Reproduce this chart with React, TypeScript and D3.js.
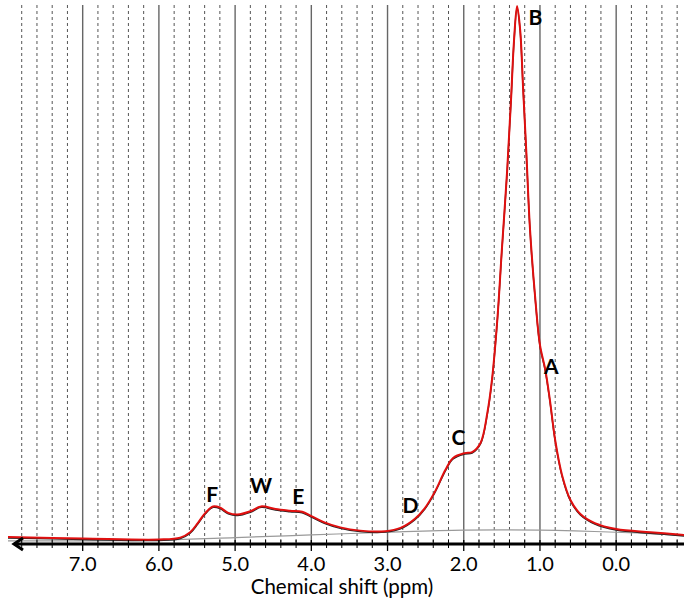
import React from 'react';
import * as d3 from 'd3';

// spectrum (ppm, intensity in % of the B peak)
const ppm = [7.98, 7.0, 6.0, 5.72, 5.59, 5.49, 5.39, 5.29, 5.2, 5.09, 4.97, 4.8, 4.66, 4.47, 4.28, 4.12, 4.0, 3.82, 3.62, 3.36, 3.03, 2.83, 2.64, 2.51, 2.38, 2.24, 2.14, 1.99, 1.89, 1.78, 1.69, 1.63, 1.56, 1.5, 1.43, 1.38, 1.34, 1.3, 1.26, 1.22, 1.18, 1.13, 1.06, 1.0, 0.93, 0.87, 0.8, 0.71, 0.6, 0.47, 0.28, 0.0, -0.45, -0.89];
const intensity = [1.1, 0.85, 0.65, 1.0, 2.0, 3.7, 5.6, 6.8, 6.6, 5.6, 5.3, 5.9, 6.8, 6.3, 6.0, 5.8, 5.0, 3.8, 2.9, 2.3, 2.2, 2.8, 4.5, 6.5, 9.5, 13.6, 15.8, 16.7, 16.9, 18.6, 24.2, 30.3, 41.4, 54.5, 69.3, 82.3, 93.5, 99.8, 95.4, 84.2, 73.0, 58.2, 45.2, 36.8, 32.2, 26.6, 19.1, 12.6, 8.0, 5.4, 3.7, 2.6, 2.0, 1.5];

// broad baseline component
const basePpm = [7.98, 6.0, 5.0, 4.0, 3.0, 2.0, 1.0, 0.0, -0.89];
const baseVal = [0.4, 0.55, 1.0, 1.5, 2.0, 2.4, 2.4, 2.0, 1.4];

const peakLabels = ['B', 'A', 'C', 'D', 'F', 'W', 'E'];
const labelPpm = [1.06, 0.85, 2.07, 2.7, 5.3, 4.66, 4.17];
const labelVal = [97.6, 32.7, 19.5, 6.9, 8.9, 10.6, 8.6];

const tickLabels = ['7.0', '6.0', '5.0', '4.0', '3.0', '2.0', '1.0', '0.0'];

export default function App() {
  const W = 684, H = 601;
  const x = d3.scaleLinear().domain([7.98, -0.89]).range([8, 684]);
  const y = d3.scaleLinear().domain([0, 100]).range([543, 5]);

  const line = d3.line<[number, number]>()
    .x(d => x(d[0]))
    .y(d => y(d[1]))
    .curve(d3.curveCatmullRom.alpha(0.5));

  const spec = line(ppm.map((p, i) => [p, intensity[i]]) as [number, number][]) || '';
  const base = line(basePpm.map((p, i) => [p, baseVal[i]]) as [number, number][]) || '';

  const minor = d3.range(-40, 40).map(i => i * 0.2).filter(v => Math.abs(v - Math.round(v)) > 0.01);
  const major = tickLabels.map(Number);

  return (
    <svg width={W} height={H} style={{ position: 'absolute', left: 0, top: 0 }}>
      <rect width={W} height={H} fill="#fff" />
      {minor.map(v => (
        <line key={'m' + v} x1={x(v)} x2={x(v)} y1={5} y2={543}
          stroke="#555" strokeWidth={1} strokeDasharray="3,3" />
      ))}
      {major.map(v => (
        <line key={'M' + v} x1={x(v)} x2={x(v)} y1={5} y2={543}
          stroke="#666" strokeWidth={1.4} />
      ))}
      <path d={base} fill="none" stroke="#9a9a9a" strokeWidth={1.2} />
      <path d={spec} fill="none" stroke="#222" strokeWidth={1.4} transform="translate(0,1)" />
      <path d={spec} fill="none" stroke="#e01010" strokeWidth={2} />

      {/* axis */}
      <line x1={14} x2={684} y1={544} y2={544} stroke="#000" strokeWidth={3} />
      <path d="M23,538 L14,544 L23,550" fill="none" stroke="#000" strokeWidth={3} />
      {minor.map(v => (
        <line key={'t' + v} x1={x(v)} x2={x(v)} y1={540} y2={548} stroke="#000" strokeWidth={1} />
      ))}
      {major.map(v => (
        <line key={'T' + v} x1={x(v)} x2={x(v)} y1={540} y2={551} stroke="#000" strokeWidth={1.3} />
      ))}
      {tickLabels.map(t => (
        <text key={t} x={x(+t)} y={571} textAnchor="middle" fontFamily="Lato, sans-serif" fontSize={20} fill="#000">{t}</text>
      ))}
      <text x={342} y={594} textAnchor="middle" fontFamily="Lato, sans-serif" fontSize={20.5} fill="#000">Chemical shift (ppm)</text>

      {peakLabels.map((t, i) => (
        <text key={t} x={x(labelPpm[i])} y={y(labelVal[i])} dy="0.35em" textAnchor="middle"
          fontFamily="Lato, sans-serif" fontWeight="bold" fontSize={21} fill="#000">{t}</text>
      ))}
    </svg>
  );
}
